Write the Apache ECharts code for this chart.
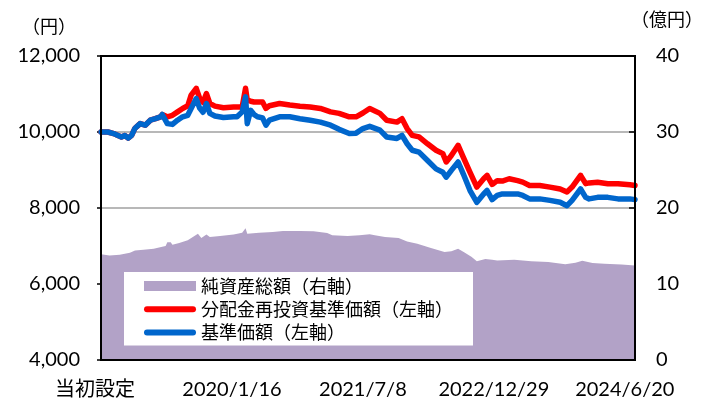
<!DOCTYPE html>
<html>
<head>
<meta charset="utf-8">
<script src="https://cdn.jsdelivr.net/npm/echarts@6/dist/echarts.min.js"></script>
<style>html,body{margin:0;padding:0;background:#fff}#c{width:707px;height:403px}</style>
</head>
<body>
<div id="c"></div>
<script>
// x positions are weeks since the initial setting date
const tickLabels = ['当初設定', '2020/1/16', '2021/7/8', '2022/12/29', '2024/6/20'];
const tickStep = 77;
const lastWeek = 314;

const lineWeeks = [0,4,8,10,12,14,16,18,20,23,26,29,32,35,36,39,42,45,48,51,53,56,58,60,62,64,67,72,78,80,83,85,86,88,90,92,95,97,99,105,111,117,123,129,135,140,146,150,154,158,164,168,174,177,180,183,187,192,197,201,203,206,210,213,217,221,225,227,230,233,236,240,245,248,252,258,264,270,274,277,282,285,287,292,298,304,311,314];

// 基準価額（左軸）
const nav = [10000,10000,9950,9910,9870,9910,9840,9910,10100,10220,10180,10310,10350,10400,10460,10220,10200,10310,10400,10440,10620,10880,10630,10520,10750,10490,10420,10380,10400,10400,10530,10925,10220,10570,10460,10400,10370,10180,10310,10400,10400,10350,10310,10260,10180,10070,9960,9970,10090,10150,10050,9870,9830,9910,9690,9520,9470,9250,9030,8940,8810,8990,9210,8900,8460,8150,8370,8460,8220,8330,8370,8370,8370,8330,8240,8240,8200,8150,8060,8200,8500,8280,8240,8280,8280,8240,8240,8220];

// 分配金再投資基準価額（左軸）
const navReinvested = [10000,10000,9950,9910,9870,9910,9840,9910,10100,10220,10180,10310,10350,10400,10460,10400,10440,10530,10620,10690,10970,11150,10890,10780,11010,10750,10680,10640,10660,10660,10660,11150,10840,10810,10790,10790,10790,10620,10690,10750,10710,10680,10660,10620,10530,10490,10400,10400,10500,10620,10490,10310,10260,10350,10090,9910,9870,9690,9520,9430,9210,9380,9650,9340,8940,8550,8770,8860,8620,8720,8710,8770,8720,8680,8590,8590,8550,8500,8420,8550,8860,8640,8660,8680,8640,8640,8610,8590];

const assetWeeks = [0,5,11,17,20,25,31,36,38,39,41,42,46,51,54,57,59,62,64,70,78,83,85,86,93,101,107,117,125,133,136,145,152,158,161,167,175,180,186,194,202,206,210,214,218,221,226,230,233,243,253,263,273,279,283,289,296,306,314];

// 純資産総額（右軸, 億円）
const netAssets = [13.9,13.75,13.85,14.1,14.4,14.5,14.65,14.9,15.0,15.5,15.5,15.15,15.4,15.75,16.2,16.6,16.05,16.5,16.2,16.3,16.5,16.75,17.35,16.6,16.75,16.85,16.97,16.97,16.93,16.7,16.4,16.3,16.4,16.55,16.4,16.2,16.05,15.6,15.3,14.75,14.2,14.3,14.65,14.1,13.55,13.0,13.3,13.2,13.1,13.2,13.0,12.9,12.6,12.8,13.05,12.75,12.65,12.55,12.45];

const seriesNames = ['純資産総額（右軸）', '分配金再投資基準価額（左軸）', '基準価額（左軸）'];
const colors = ['#B2A2C7', '#FF0000', '#0066CC'];

const zip = (xs, ys) => xs.map((x, i) => [x, ys[i]]);
const FONT = 'Lato, "Noto Sans CJK JP", sans-serif';
const CJK = '"Noto Sans CJK JP", sans-serif';
const lineIcon = 'path://M3,0H49A3,3,0,0,1,49,6H3A3,3,0,0,1,3,0Z';

const chart = echarts.init(document.getElementById('c'), null, {renderer: 'canvas'});
chart.setOption({
  animation: false,
  backgroundColor: '#fff',
  grid: {left: 101, right: 72, top: 56, bottom: 43, show: true, borderColor: '#000', borderWidth: 2, backgroundColor: 'transparent', z: 5},
  graphic: [
    {type: 'text', left: 22, top: 17, style: {text: '（円）', font: '18px ' + CJK, fill: '#000'}},
    {type: 'text', left: 631, top: 10, style: {text: '（億円）', font: '18px ' + CJK, fill: '#000'}}
  ],
  legend: {
    orient: 'vertical',
    left: 124, top: 272,
    backgroundColor: '#fff',
    padding: [4, 20, 3, 20],
    itemGap: 3.3,
    itemWidth: 52, itemHeight: 10,
    itemStyle: {borderWidth: 0},
    textStyle: {fontSize: 18, fontFamily: CJK, color: '#000', lineHeight: 20},
    data: [
      {name: seriesNames[0], icon: 'rect', itemStyle: {color: colors[0], borderWidth: 0}},
      {name: seriesNames[1], icon: lineIcon, itemStyle: {color: colors[1], borderWidth: 0}},
      {name: seriesNames[2], icon: lineIcon, itemStyle: {color: colors[2], borderWidth: 0}}
    ]
  },
  xAxis: {
    type: 'value', min: 0, max: lastWeek, interval: tickStep,
    axisLine: {show: true, lineStyle: {color: '#000', width: 2}},
    axisTick: {show: true, inside: true, length: 7, lineStyle: {color: '#000', width: 1.5}},
    splitLine: {show: false},
    axisLabel: {
      margin: 20, fontSize: 20, fontFamily: FONT, color: '#000',
      rich: {first: {fontSize: 20, fontFamily: FONT, color: '#000', padding: [0, 12, 0, 0]}},
      formatter: v => {
        const i = v / tickStep;
        if (!Number.isInteger(i) || !tickLabels[i]) return '';
        return i === 0 ? '{first|' + tickLabels[0] + '}' : tickLabels[i];
      }
    }
  },
  yAxis: [
    {
      type: 'value', min: 4000, max: 12000, interval: 2000, position: 'left',
      axisLine: {show: true, lineStyle: {color: '#000', width: 2}},
      axisTick: {show: true, inside: false, length: 4, lineStyle: {color: '#000', width: 1.5}},
      splitLine: {show: true, lineStyle: {color: '#A0A0A0', width: 1.5}},
      axisLabel: {margin: 21, fontSize: 20, fontFamily: FONT, color: '#000'}
    },
    {
      type: 'value', min: 0, max: 40, interval: 10, position: 'right',
      axisLine: {show: true, lineStyle: {color: '#000', width: 2}},
      axisTick: {show: true, inside: true, length: 6, lineStyle: {color: '#000', width: 1.5}},
      splitLine: {show: false},
      axisLabel: {margin: 21, fontSize: 20, fontFamily: FONT, color: '#000'}
    }
  ],
  series: [
    {
      name: seriesNames[0], type: 'line', yAxisIndex: 1, data: zip(assetWeeks, netAssets),
      symbol: 'none', color: colors[0], lineStyle: {width: 0}, areaStyle: {color: colors[0], opacity: 1}, z: 1
    },
    {
      name: seriesNames[1], type: 'line', yAxisIndex: 0, data: zip(lineWeeks, navReinvested),
      symbol: 'none', color: colors[1], lineStyle: {width: 5.5, cap: 'round', join: 'round'}, z: 2
    },
    {
      name: seriesNames[2], type: 'line', yAxisIndex: 0, data: zip(lineWeeks, nav),
      symbol: 'none', color: colors[2], lineStyle: {width: 5.5, cap: 'round', join: 'round'}, z: 3
    }
  ]
});
</script>
</body>
</html>
